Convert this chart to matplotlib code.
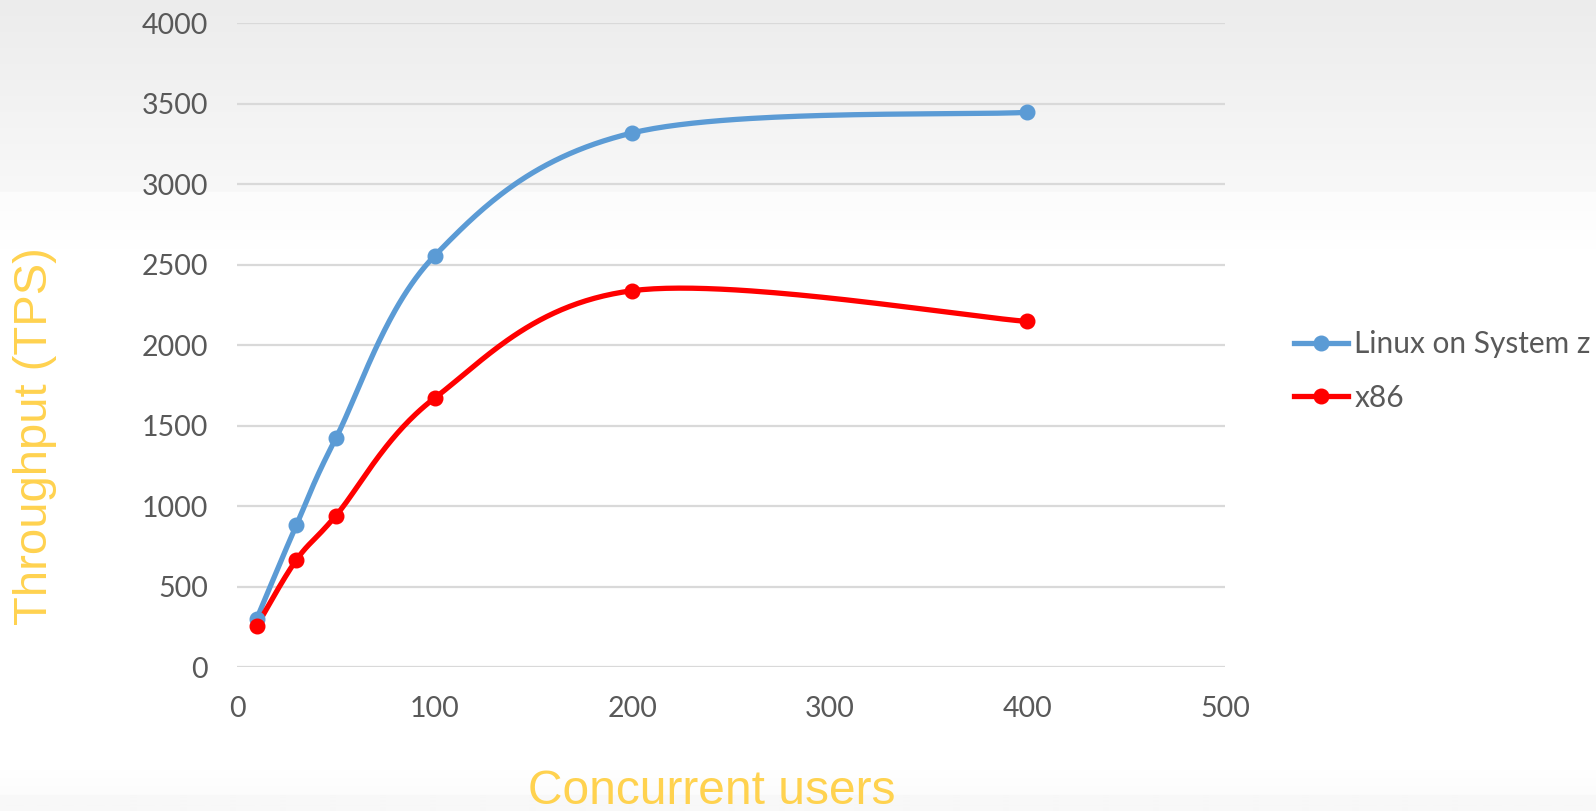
import numpy as np
import matplotlib
matplotlib.use("Agg")
import matplotlib.pyplot as plt
from matplotlib.colors import to_rgb

# Throughput measurements
users = [10, 30, 50, 100, 200, 400]
linux_z_tps = [302, 882, 1422, 2556, 3319, 3447]
x86_tps = [257, 666, 941, 1672, 2339, 2148]

series_names = ["Linux on System z", "x86"]
series_colors = ["#5B9BD5", "#FF0000"]

x_ticks = [0, 100, 200, 300, 400, 500]
y_ticks = [0, 500, 1000, 1500, 2000, 2500, 3000, 3500, 4000]

W, H, DPI = 1596, 811, 100
fig = plt.figure(figsize=(W / DPI, H / DPI), dpi=DPI)
fig.patch.set_facecolor("white")

# soft slide-style background bands
bg = np.ones((H, 1, 3))
def band(y0, y1, c0, c1):
    c0, c1 = np.array(to_rgb(c0)), np.array(to_rgb(c1))
    t = np.linspace(0, 1, y1 - y0)[:, None]
    bg[y0:y1, 0, :] = c0 * (1 - t) + c1 * t
band(0, 192, "#ececec", "#f8f8f8")
band(192, 250, "#fcfcfc", "#ffffff")
band(770, 795, "#ffffff", "#fcfcfc")
band(795, 811, "#f8f8f8", "#f8f8f8")
bgax = fig.add_axes([0, 0, 1, 1], zorder=-10)
bgax.imshow(bg, aspect="auto", extent=[0, 1, 0, 1], interpolation="bilinear")
bgax.set_axis_off()

left, right, top, bottom = 237, 1225, 23.3, 667.3
ax = fig.add_axes([left / W, 1 - bottom / H, (right - left) / W, (bottom - top) / H])
ax.patch.set_alpha(0)
ax.set_xlim(0, 500)
ax.set_ylim(0, 4000)
ax.set_xticks(x_ticks)
ax.set_yticks(y_ticks)
for s in ax.spines.values():
    s.set_visible(False)
ax.grid(axis="y", color="#d9d9d9", linewidth=1.6)
ax.set_axisbelow(True)
ax.tick_params(length=0, labelsize=20.5, labelcolor="#595959")
ax.tick_params(axis="y", pad=21)
ax.tick_params(axis="x", pad=21)
for lab in ax.get_xticklabels() + ax.get_yticklabels():
    lab.set_fontfamily("Lato")


def smooth_curve(xs, ys, n=60):
    """Bezier smoothing (Catmull-Rom style) evaluated in screen space."""
    pts = ax.transData.transform(np.column_stack([xs, ys]))
    P = np.vstack([pts[0], pts, pts[-1]])
    out = []
    for i in range(1, len(P) - 2):
        p0, p1, p2, p3 = P[i - 1], P[i], P[i + 1], P[i + 2]
        c1 = p1 + (p2 - p0) / 6.0
        c2 = p2 - (p3 - p1) / 6.0
        t = np.linspace(0, 1, n)[:, None]
        seg = ((1 - t) ** 3) * p1 + 3 * ((1 - t) ** 2) * t * c1 + 3 * (1 - t) * t ** 2 * c2 + t ** 3 * p2
        out.append(seg if i == 1 else seg[1:])
    out = np.vstack(out)
    data = ax.transData.inverted().transform(out)
    return data[:, 0], data[:, 1]


LW, MS = 3.8, 10.5
handles = []
for vals, name, col in zip([linux_z_tps, x86_tps], series_names, series_colors):
    sx, sy = smooth_curve(users, vals)
    ax.plot(sx, sy, color=col, lw=LW, solid_capstyle="round", zorder=3)
    ax.plot(users, vals, linestyle="none", marker="o", ms=MS, color=col, zorder=4)
    h, = ax.plot([], [], color=col, lw=LW, marker="o", ms=MS, label=name)
    handles.append(h)

leg = fig.legend(handles=handles, loc="upper left",
                 bbox_to_anchor=(1294 / W, 1 - 330 / H), frameon=False,
                 handlelength=1.82, handletextpad=0.2, labelspacing=0.86,
                 borderaxespad=0, borderpad=0,
                 prop={"family": "Lato", "size": 21.5})
for t in leg.get_texts():
    t.set_color("#595959")

label_color = "#FFD24F"
fig.text(35 / W, 1 - 436 / H, "Throughput (TPS)", rotation=90, ha="center", va="center",
         fontsize=34, color=label_color, family="Liberation Sans")
fig.text(712 / W, 1 - 791 / H, "Concurrent users", ha="center", va="center",
         fontsize=34.5, color=label_color, family="Liberation Sans")

fig.savefig("out.png", dpi=DPI)
